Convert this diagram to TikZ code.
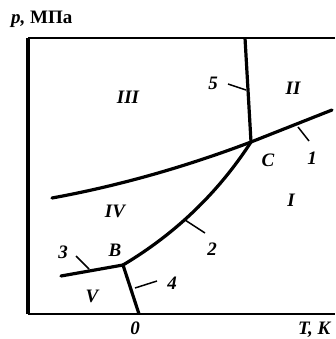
\documentclass[tikz,border=0pt]{standalone}
\usepackage{fontspec}
\setmainfont{Liberation Serif}
\usetikzlibrary{calc}

\begin{document}
\begin{tikzpicture}[x=1pt,y=-1pt,font=\fontsize{19}{22}\selectfont\bfseries\itshape,
  phase/.style={line width=3.2pt},
  tick/.style={line width=1.5pt},
  lbl/.style={inner sep=0pt}]
\useasboundingbox[fill=white] (0,0) rectangle (335,339);

% frame of the diagram
\coordinate (TR) at (335,38);
\coordinate (TL) at (28,38);
\coordinate (BL) at (28,314);
\coordinate (BR) at (335,314);
\draw[line width=1.4pt] (TR) -- (TL);
\draw[line width=3.2pt] (TL) -- (BL);
\draw[line width=2.4pt] (BL) -- (BR);

% points of the phase lines
\coordinate (C) at (251,142);
\coordinate (B) at (123,265);
\coordinate (top5) at (245,38);
\coordinate (end1) at (332,110);
\coordinate (endIV) at (52,198);
\coordinate (end3) at (61,276);
\coordinate (end4) at (139,314);

\draw[phase,line cap=round] (end1) -- (C) .. controls (185,167) and (118,186) .. (endIV);
\draw[phase] (top5) -- (C);
\draw[phase] (C) .. controls (218,193) and (175,234) .. (B);
\draw[phase,line cap=round] (B) -- (end3);
\draw[phase] (B) -- (end4);

% ticks to the numbers
\coordinate (t5a) at (246,90);  \coordinate (t5b) at (228,84);
\coordinate (t1a) at (298,127); \coordinate (t1b) at (309,141);
\coordinate (t2a) at (185,220); \coordinate (t2b) at (205,233);
\coordinate (t3a) at (89,269);  \coordinate (t3b) at (76,256);
\coordinate (t4a) at (135,288); \coordinate (t4b) at (157,281);
\draw[tick] (t5a) -- (t5b) (t1a) -- (t1b) (t2a) -- (t2b) (t3a) -- (t3b) (t4a) -- (t4b);

\node[lbl,anchor=west] (py) at (11,19) {p,\upshape\ МПа};
\node[lbl,anchor=base west] (tx) at (298,334) {T, K};
\node[lbl,anchor=base] (zero) at (135,334) {0};

\node[lbl] (r3) at (128,97) {III};
\node[lbl] (r2) at (293,88) {II};
\node[lbl] (r4) at (115,211) {IV};
\node[lbl] (r1) at (291,200) {I};
\node[lbl] (r5) at (92,296) {V};

\node[lbl] (n5) at (213,83) {5};
\node[lbl] (n1) at (312,158) {1};
\node[lbl] (n2) at (212,249) {2};
\node[lbl] (n3) at (63,252) {3};
\node[lbl] (n4) at (172,283) {4};
\node[lbl] (lC) at (268,160) {C};
\node[lbl] (lB) at (115,250) {B};

\end{tikzpicture}
\end{document}
